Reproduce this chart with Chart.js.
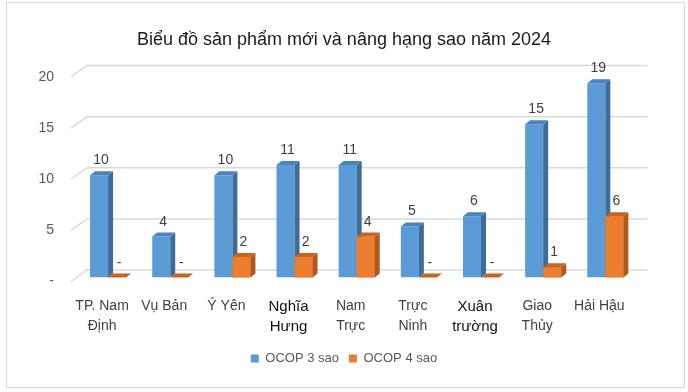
<!DOCTYPE html>
<html lang="vi">
<head>
<meta charset="UTF-8">
<title>Biểu đồ sản phẩm mới và nâng hạng sao năm 2024</title>
<script src="https://cdn.jsdelivr.net/npm/chart.js"></script>
<style>
  body { margin: 0; background: #fff; }
  canvas { display: block; }
</style>
</head>
<body>
<canvas id="chart" width="688" height="392"></canvas>

<script>
// du lieu
const categories = [
    ['TP. Nam', 'Định'], 'Vụ Bản', 'Ý Yên', ['Nghĩa', 'Hưng'], ['Nam', 'Trực'],
    ['Trực', 'Ninh'], ['Xuân', 'trường'], ['Giao', 'Thủy'], 'Hải Hậu'
];
const ocop3 = [10, 4, 10, 11, 11, 5, 6, 15, 19];
const ocop4 = [0, 0, 2, 2, 4, 0, 0, 1, 6];
const yTicks = [0, 5, 10, 15, 20];
const seriesNames = ['OCOP 3 sao', 'OCOP 4 sao'];

const DX = 5, DY = 4;   // chieu sau 3D cua cot
const faces = [
    { front: '#5B9BD5', side: '#3E6C98', top: '#4A84BE' },
    { front: '#ED7D31', side: '#B2581C', top: '#C9641F' }
];

Chart.defaults.font.family = "'Liberation Sans', Arial, sans-serif";

function quad(ctx, pts, color) {
    ctx.beginPath();
    ctx.moveTo(pts[0][0], pts[0][1]);
    for (let i = 1; i < pts.length; i++) ctx.lineTo(pts[i][0], pts[i][1]);
    ctx.closePath();
    ctx.fillStyle = color;
    ctx.fill();
}

const khung = {
    id: 'khung',
    beforeDraw(chart) {
        const ctx = chart.ctx;
        ctx.save();
        ctx.fillStyle = '#fff';
        ctx.fillRect(0, 0, chart.width, chart.height);
        ctx.strokeStyle = '#D9D9D9';
        ctx.lineWidth = 1;
        ctx.strokeRect(6.5, 2.5, 678, 385);
        ctx.restore();
    },
    beforeDatasetsDraw(chart) {
        // luoi kieu 3D: doan xien ben trai + duong ngang o tuong sau
        const ctx = chart.ctx, y = chart.scales.y, area = chart.chartArea;
        ctx.save();
        ctx.strokeStyle = '#D9D9D9';
        ctx.lineWidth = 1.5;
        yTicks.forEach(v => {
            const py = y.getPixelForValue(v);
            ctx.beginPath();
            ctx.moveTo(area.left - 6, py + 4);
            ctx.lineTo(area.left + 10, py - 7.5);
            ctx.lineTo(area.right + 11, py - 7.5);
            ctx.stroke();
        });
        ctx.restore();
    },
    afterDatasetsDraw(chart) {
        const ctx = chart.ctx;
        const metas = [chart.getDatasetMeta(0), chart.getDatasetMeta(1)];
        ctx.save();
        for (let i = 0; i < categories.length; i++) {
            metas.forEach((meta, d) => {
                const bar = meta.data[i];
                const { x, y, base, width } = bar.getProps(['x', 'y', 'base', 'width'], true);
                const l = x - width / 2, r = x + width / 2;
                if (d > 0) bar.draw(ctx);
                quad(ctx, [[r, y], [r + DX, y - DY], [r + DX, base - DY], [r, base]], faces[d].side);
                quad(ctx, [[l, y], [l + DX, y - DY], [r + DX, y - DY], [r, y]], faces[d].top);
            });
        }
        // nhan gia tri
        ctx.fillStyle = '#404040';
        ctx.font = "14px 'Liberation Sans', Arial, sans-serif";
        ctx.textAlign = 'center';
        ctx.textBaseline = 'alphabetic';
        metas.forEach((meta, d) => {
            const vals = d === 0 ? ocop3 : ocop4;
            meta.data.forEach((bar, i) => {
                const v = vals[i];
                ctx.fillText(v === 0 ? '-' : String(v), bar.x + 2, bar.y - 11);
            });
        });
        ctx.restore();
    }
};

new Chart(document.getElementById('chart'), {
    type: 'bar',
    data: {
        labels: categories,
        datasets: [
            { label: seriesNames[0], data: ocop3, backgroundColor: faces[0].front, borderWidth: 0 },
            { label: seriesNames[1], data: ocop4, backgroundColor: faces[1].front, borderWidth: 0 }
        ]
    },
    options: {
        responsive: false,
        animation: false,
        layout: { padding: { left: 0, right: 0, top: 0, bottom: 17 } },
        datasets: { bar: { categoryPercentage: 0.58, barPercentage: 1.0 } },
        plugins: {
            title: {
                display: true,
                text: 'Biểu đồ sản phẩm mới và nâng hạng sao năm 2024',
                color: '#1a1a1a',
                font: { size: 18, weight: 'normal', lineHeight: 1.2 },
                padding: { top: 29, bottom: 22.4 }
            },
            legend: {
                position: 'bottom',
                labels: {
                    boxWidth: 8,
                    boxHeight: 8,
                    color: '#595959',
                    font: { size: 13 },
                    padding: 10,
                    sort: (a, b) => a.datasetIndex - b.datasetIndex
                }
            },
            tooltip: { enabled: false }
        },
        scales: {
            x: {
                grid: { display: false, drawTicks: false },
                border: { display: false },
                ticks: {
                    color: (c) => (c.index === 3 || c.index === 6) ? '#111' : '#404040',
                    font: (c) => (c.index === 3 || c.index === 6)
                        ? { size: 15, lineHeight: 1.33 }
                        : { size: 14, lineHeight: 1.43 },
                    padding: 19,
                    labelOffset: -6,
                    maxRotation: 0,
                    autoSkip: false
                },
                afterFit: (s) => { s.height = 64.5; }
            },
            y: {
                min: 0,
                max: 20,
                grid: { display: false, drawTicks: false },
                border: { display: false },
                afterBuildTicks: (s) => { s.ticks = yTicks.map(v => ({ value: v })); },
                ticks: {
                    color: '#595959',
                    font: { size: 14 },
                    padding: 23,
                    labelOffset: 4,
                    callback: (v) => v === 0 ? '-' : v
                },
                afterFit: (s) => { s.width = 77; }
            },
            y2: {
                position: 'right',
                display: true,
                grid: { display: false, drawTicks: false },
                border: { display: false },
                ticks: { display: false },
                afterFit: (s) => { s.width = 51.6; }
            }
        }
    },
    plugins: [khung]
});
</script>
</body>
</html>
